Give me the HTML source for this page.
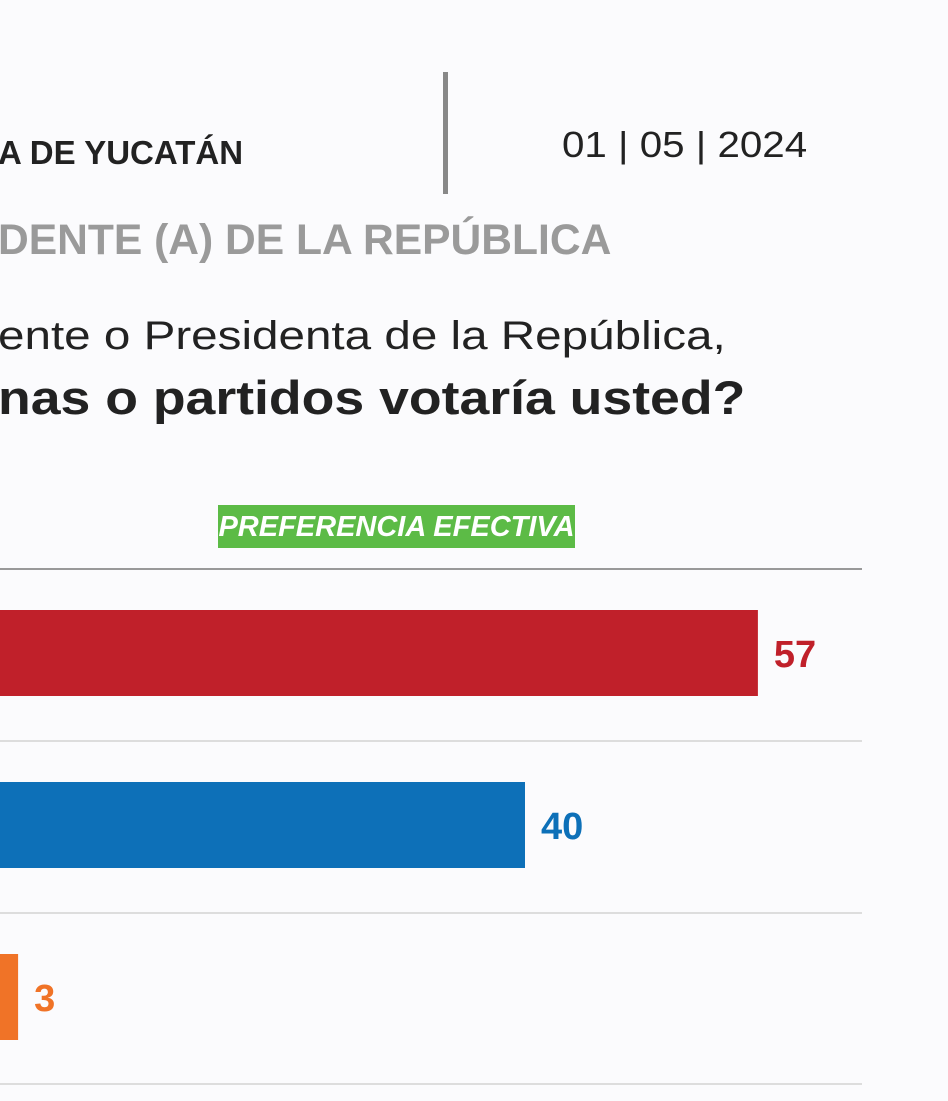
<!DOCTYPE html>
<html><head><meta charset="utf-8">
<style>
body{margin:0;width:948px;height:1101px;background:#fbfbfd;overflow:hidden;font-family:"Liberation Sans",sans-serif;position:relative}
.t{position:absolute;white-space:nowrap;transform-origin:0 0}
</style></head><body>
<div class="t" style="left:-2px;top:134px;font-size:33px;font-weight:bold;color:#222">A DE YUCATÁN</div>
<div style="position:absolute;left:443px;top:72px;width:5px;height:122px;background:#888"></div>
<div class="t" style="left:562px;top:124px;font-size:36px;color:#222;transform:scaleX(1.12)">01 | 05 | 2024</div>
<div class="t" style="left:-2px;top:216px;font-size:43px;font-weight:bold;color:#9a9a9a;transform:scaleX(0.99)">DENTE (A) DE LA REPÚBLICA</div>
<div class="t" style="left:-2px;top:314px;font-size:40px;color:#222;transform:scaleX(1.19)">ente o Presidenta de la República,</div>
<div class="t" style="left:-2px;top:370px;font-size:47px;font-weight:bold;color:#222;transform:scaleX(1.14)">nas o partidos votaría usted?</div>
<div class="t" style="left:218px;top:505px;width:357px;height:43px;background:#5cbb46;color:#fff;font-size:29px;font-weight:bold;font-style:italic;text-align:center;line-height:45px">PREFERENCIA EFECTIVA</div>
<svg id="c" width="948" height="1101" style="position:absolute;left:0;top:0"></svg>
<script>
const categories=["Morena","PAN","MC"];
const values=[57,40,3];
const colors=["#c0202a","#0d70b8","#f07327"];
const svg=document.getElementById('c');
const NS="http://www.w3.org/2000/svg";
const x=v=>-23+v*13.7;
const rowY=i=>610+i*172;
function mk(t,a){const e=document.createElementNS(NS,t);for(const k in a)e.setAttribute(k,a[k]);svg.appendChild(e);return e;}
let ax=mk('line',{x1:0,x2:862,y1:569,y2:569,stroke:'#999','stroke-width':2});


[741,913,1084].forEach(y=>{let g=mk('line',{x1:0,x2:862,y1:y,y2:y,stroke:'#ddd','stroke-width':2});

});
values.forEach((v,i)=>{
 let r=mk('rect',{x:0,y:rowY(i),width:Math.max(0,x(v)),height:86,fill:colors[i]});
 
 
 let t=mk('text',{x:x(v)+16,y:rowY(i)+57,fill:colors[i],'font-size':38,'font-weight':'bold','font-family':'Liberation Sans, sans-serif'});
 t.textContent=v;
 
 
});
</script>
</body></html>
